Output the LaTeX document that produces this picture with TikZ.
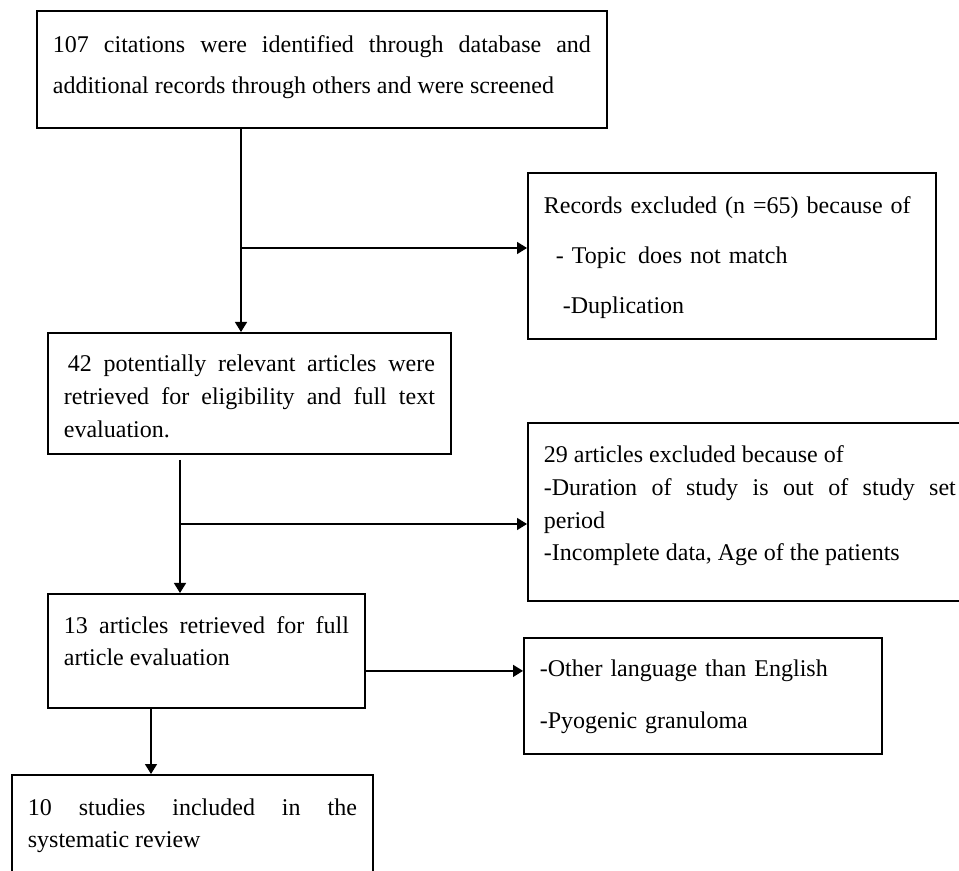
\documentclass[tikz,border=0pt]{standalone}
\usepackage{fontspec}
\setmainfont{Liberation Serif}
\usetikzlibrary{arrows.meta}

\begin{document}
\begin{tikzpicture}[
  x=0.5pt, y=-0.5pt,
  stage/.style={draw, line width=0.9pt, anchor=north west,
                inner xsep=8pt, inner ysep=0pt, align=justify},
  link/.style={-{Triangle[length=5pt,width=6pt]}, line width=0.7pt}
]
\useasboundingbox (0,0) rectangle (959,871);

% main column
\node[stage, text width=269pt, text height=21pt, text depth=37.5pt,
      font=\fontsize{12}{20.5}\selectfont] (found) at (36,10)
  {107 citations were identified through database and\linebreak
   additional records through others and were screened};
\node[stage, text width=185.5pt, text height=19.5pt, text depth=41pt,
      font=\fontsize{12}{16.5}\selectfont] (relevant) at (47,332)
  {\hspace*{2pt}42 potentially relevant articles were\linebreak
   retrieved for eligibility and full text\linebreak
   evaluation.};
\node[stage, text width=142.5pt, text height=20pt, text depth=37pt,
      font=\fontsize{12}{16}\selectfont] (full) at (47,593)
  {13 articles retrieved for full\linebreak
   article evaluation};
\node[stage, text width=164.5pt, text height=20.5pt, text depth=33pt,
      font=\fontsize{12}{16}\selectfont] (incl) at (11,774)
  {10 studies included in the\linebreak
   systematic review};

% exclusion boxes
\node[stage, align=left, text width=188pt, text height=20.5pt, text depth=62.5pt,
      font=\fontsize{12}{25}\selectfont] (recx) at (527,172)
  {Records excluded (n =65) because of\\
   \hspace*{6pt}- Topic\, does not match\\
   \hspace*{9.5pt}-Duplication};
\node[stage, text width=206pt, text height=20pt, text depth=69pt,
      font=\fontsize{12}{16.3}\selectfont] (exdur) at (527,422)
  {29 articles excluded because of\\
   -Duration of study is out of study set\linebreak
   period\\
   -Incomplete data, Age of the patients};
\node[stage, align=left, text width=163pt, text height=19.5pt, text depth=38.5pt,
      font=\fontsize{12}{26}\selectfont] (exlang) at (523,637)
  {-Other language than English\\
   -Pyogenic granuloma};

\coordinate (j1) at (241,248);
\coordinate (j2) at (180,524);
\coordinate (j3) at (151,740);

\draw[link] (found.south -| j1) -- (relevant.north -| j1);
\draw[link] (j1) -- (j1 -| recx.west);
\draw[link, shorten <=2.5pt] (relevant.south -| j2) -- (full.north -| j2);
\draw[link] (j2) -- (j2 -| exdur.west);
\draw[link] ([yshift=-10pt]full.east) -- ([yshift=-10pt]full.east -| exlang.west);
\draw[link] (full.south -| j3) -- (incl.north -| j3);
\end{tikzpicture}
\end{document}
